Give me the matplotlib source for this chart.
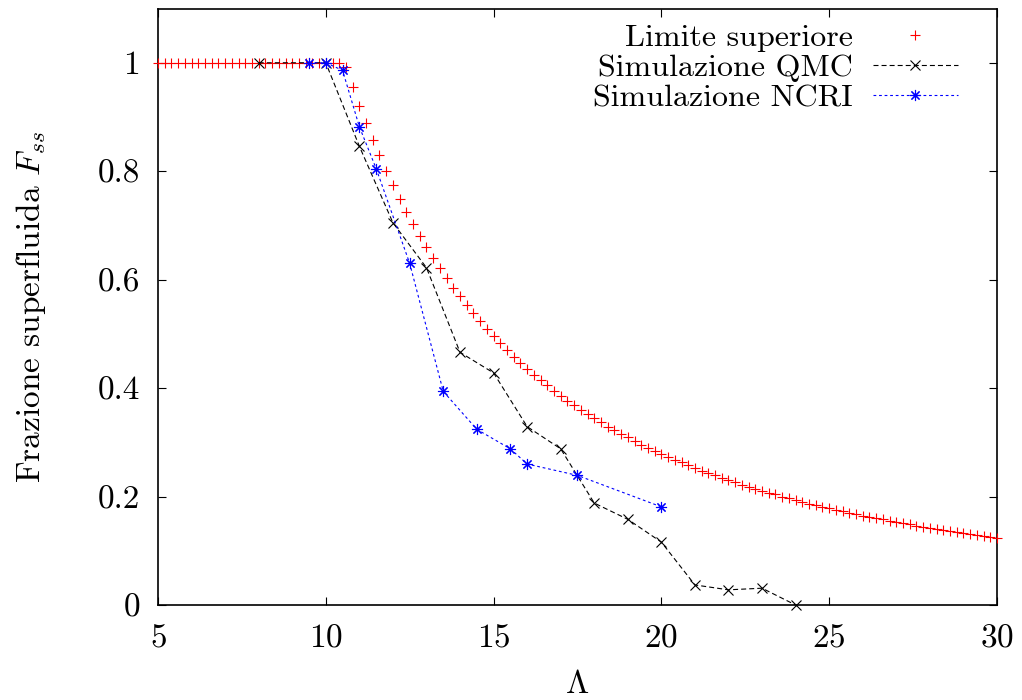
import matplotlib
matplotlib.use("Agg")
import matplotlib.pyplot as plt

plt.rcParams['font.family'] = 'cmr10'
plt.rcParams['mathtext.fontset'] = 'cm'
plt.rcParams['axes.formatter.use_mathtext'] = True
plt.rcParams['lines.scale_dashes'] = False

# upper bound (red +), read every 0.2 along Lambda
lim_x = [5.0, 5.2, 5.4, 5.6, 5.8, 6.0, 6.2, 6.4, 6.6, 6.8,
         7.0, 7.2, 7.4, 7.6, 7.8, 8.0, 8.2, 8.4, 8.6, 8.8,
         9.0, 9.2, 9.4, 9.6, 9.8, 10.0, 10.2, 10.4, 10.6, 10.8,
         11.0, 11.2, 11.4, 11.6, 11.8, 12.0, 12.2, 12.4, 12.6, 12.8,
         13.0, 13.2, 13.4, 13.6, 13.8, 14.0, 14.2, 14.4, 14.6, 14.8,
         15.0, 15.2, 15.4, 15.6, 15.8, 16.0, 16.2, 16.4, 16.6, 16.8,
         17.0, 17.2, 17.4, 17.6, 17.8, 18.0, 18.2, 18.4, 18.6, 18.8,
         19.0, 19.2, 19.4, 19.6, 19.8, 20.0, 20.2, 20.4, 20.6, 20.8,
         21.0, 21.2, 21.4, 21.6, 21.8, 22.0, 22.2, 22.4, 22.6, 22.8,
         23.0, 23.2, 23.4, 23.6, 23.8, 24.0, 24.2, 24.4, 24.6, 24.8,
         25.0, 25.2, 25.4, 25.6, 25.8, 26.0, 26.2, 26.4, 26.6, 26.8,
         27.0, 27.2, 27.4, 27.6, 27.8, 28.0, 28.2, 28.4, 28.6, 28.8,
         29.0, 29.2, 29.4, 29.6, 29.8, 30.0]
lim_y = [1.0, 1.0, 1.0, 1.0, 1.0, 1.0, 1.0, 1.0, 1.0, 1.0,
         1.0, 1.0, 1.0, 1.0, 1.0, 1.0, 1.0, 1.0, 1.0, 1.0,
         1.0, 1.0, 1.0, 1.0, 1.0, 1.0, 1.0, 1.0, 0.992, 0.956,
         0.921, 0.889, 0.858, 0.829, 0.801, 0.774, 0.749, 0.725, 0.702, 0.681,
         0.660, 0.640, 0.621, 0.603, 0.585, 0.569, 0.553, 0.538, 0.523, 0.509,
         0.496, 0.483, 0.470, 0.458, 0.447, 0.436, 0.425, 0.415, 0.405, 0.395,
         0.386, 0.377, 0.368, 0.360, 0.352, 0.344, 0.337, 0.329, 0.322, 0.315,
         0.309, 0.302, 0.296, 0.290, 0.284, 0.279, 0.273, 0.268, 0.263, 0.258,
         0.253, 0.248, 0.243, 0.239, 0.235, 0.230, 0.226, 0.222, 0.218, 0.214,
         0.211, 0.207, 0.204, 0.200, 0.197, 0.194, 0.190, 0.187, 0.184, 0.181,
         0.178, 0.176, 0.173, 0.170, 0.168, 0.165, 0.162, 0.160, 0.158, 0.155,
         0.153, 0.151, 0.149, 0.146, 0.144, 0.142, 0.140, 0.138, 0.136, 0.134,
         0.133, 0.131, 0.129, 0.127, 0.126, 0.124]

qmc_x = [8, 10, 11, 12, 13, 14, 15, 16, 17, 18, 19, 20, 21, 22, 23, 24]
qmc_y = [1.0, 1.0, 0.846, 0.705, 0.622, 0.466, 0.428, 0.329, 0.288, 0.188,
         0.158, 0.116, 0.037, 0.028, 0.031, 0.0]

ncri_x = [9.5, 10, 10.5, 11, 11.5, 12.5, 13.5, 14.5, 15.5, 16, 17.5, 20]
ncri_y = [1.0, 1.0, 0.986, 0.882, 0.805, 0.630, 0.394, 0.324, 0.288, 0.260,
          0.239, 0.181]

xticks = [5, 10, 15, 20, 25, 30]
yticks = [0, 0.2, 0.4, 0.6, 0.8, 1.0]
yticklabels = ['0', '0.2', '0.4', '0.6', '0.8', '1']

fig = plt.figure(figsize=(10.22, 7.0), dpi=100)
ax = fig.add_axes([0.1546, 0.1357, 0.8209, 0.8521])

ax.plot(lim_x, lim_y, ls='none', marker='+', ms=7.5, mew=0.8, color='#ff0000',
        label='Limite superiore', clip_on=False, zorder=3)
ax.plot(qmc_x, qmc_y, ls=(0, (3.6, 2.2)), lw=0.8, marker='x', ms=7, mew=0.8,
        color='black', label='Simulazione QMC', clip_on=False, zorder=4)
ax.plot(ncri_x, ncri_y, ls=(0, (2.0, 2.0)), lw=0.8, marker=(8, 2, 0), ms=8,
        mew=0.8, color='#0000ff', label='Simulazione NCRI', clip_on=False, zorder=5)

ax.set_xlim(5, 30)
ax.set_ylim(0, 1.1)
ax.set_xticks(xticks)
ax.set_yticks(yticks)
ax.set_yticklabels(yticklabels)
ax.tick_params(direction='in', length=6, width=0.8, top=True, right=True,
               labelsize=24, pad=13)
for s in ax.spines.values():
    s.set_linewidth(1.2)

ax.set_xlabel(r'$\Lambda$', fontsize=24, labelpad=13)
ax.set_ylabel(r'Frazione superfluida $F_{ss}$', fontsize=24, labelpad=36)

ax.legend(loc='upper right', bbox_to_anchor=(0.9535, 0.974), frameon=False,
          markerfirst=False, fontsize=23, handlelength=2.66, handletextpad=0.62,
          labelspacing=0.05, borderpad=0, borderaxespad=0)

fig.savefig('out.png', dpi=100)
